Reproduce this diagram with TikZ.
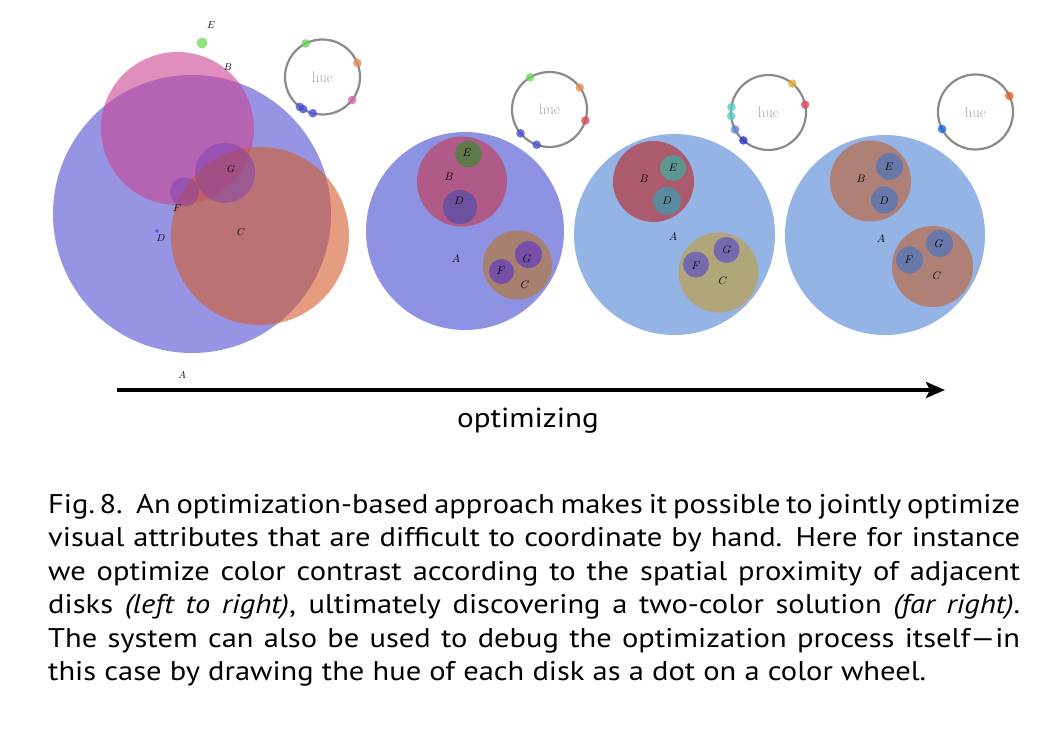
\documentclass[tikz,border=0pt]{standalone}
\usepackage{fontspec}
\newfontfamily\capfont[FakeStretch=1.13]{PT Sans}
\usetikzlibrary{arrows.meta}
\definecolor{pAa}{RGB}{151,148,227}
\definecolor{pBa}{RGB}{202,68,148}
\definecolor{pCa}{RGB}{210,92,45}
\definecolor{pGa}{RGB}{120,60,180}
\definecolor{pDa}{RGB}{80,80,220}
\definecolor{pEa}{RGB}{130,220,110}
\definecolor{pAb}{RGB}{142,146,226}
\definecolor{pBb}{RGB}{176,90,136}
\definecolor{pEb}{RGB}{94,122,74}
\definecolor{pDb}{RGB}{110,80,160}
\definecolor{pCb}{RGB}{168,128,112}
\definecolor{pFb}{RGB}{118,80,168}
\definecolor{pAc}{RGB}{147,180,228}
\definecolor{pBc}{RGB}{172,90,110}
\definecolor{pEc}{RGB}{94,150,144}
\definecolor{pDc}{RGB}{90,138,160}
\definecolor{pCc}{RGB}{176,166,122}
\definecolor{pFc}{RGB}{118,104,172}
\definecolor{pBd}{RGB}{174,128,118}
\definecolor{pDd}{RGB}{104,120,168}
\definecolor{wheelgray}{RGB}{138,138,138}
\definecolor{huegray}{RGB}{168,168,168}
\definecolor{hgreen}{RGB}{110,215,90}
\definecolor{horange}{RGB}{225,140,80}
\definecolor{hpink}{RGB}{220,100,170}
\definecolor{hblue}{RGB}{70,80,215}
\definecolor{hred}{RGB}{215,80,90}
\definecolor{hgold}{RGB}{225,175,60}
\definecolor{hteal}{RGB}{90,205,200}
\definecolor{hlblue}{RGB}{100,130,225}
\definecolor{hdblue}{RGB}{40,50,210}
\definecolor{hor4}{RGB}{225,100,40}
\definecolor{hbl4}{RGB}{20,100,225}
\begin{document}
\begin{tikzpicture}[x=1pt,y=-1pt,
  lbl/.style={font=\fontsize{11}{13}\selectfont, inner sep=0pt},
  lbls/.style={font=\fontsize{10}{12}\selectfont, inner sep=0pt},
  wheel/.style={draw=wheelgray, line width=2.2pt},
  huetxt/.style={font=\fontsize{15}{17}\selectfont, text=huegray, inner sep=0pt},
  hdot/.style={fill=#1, fill opacity=0.8, draw=none},
  capt/.style={font=\capfont\fontsize{27}{33.5}\selectfont, inner sep=0pt}]
\useasboundingbox (0,0) rectangle (1050,730);
\fill[white] (0,0) rectangle (1050,730);
% ---------- panel 1 ----------
\fill[pAa] (192,214) circle[radius=139pt];
\fill[pBa, fill opacity=0.6] (177.5,128.5) circle[radius=76.5pt];
\fill[pCa, fill opacity=0.6] (260,236) circle[radius=89pt];
\fill[pGa, fill opacity=0.45] (184.5,192) circle[radius=14.5pt];
\fill[pGa, fill opacity=0.45] (225,173) circle[radius=30pt];
\fill[pDa] (157,231) circle[radius=1.8pt];
\fill[pEa, fill opacity=0.85] (202,43) circle[radius=5.5pt];
\node[lbls] (a1) at (182,375) {$A$};
\node[lbls] (b1) at (228,67) {$B$};
\node[lbls] (c1) at (241,232) {$C$};
\node[lbls] (d1) at (161,238) {$D$};
\node[lbls] (e1) at (211,25) {$E$};
\node[lbls] (f1) at (177,208) {$F$};
\node[lbls] (g1) at (231,169) {$G$};
\coordinate (W1) at (322.5,77);
\draw[wheel] (W1) circle[radius=37.5pt];
\node[huetxt] (h1) at (W1) {hue};
\begin{scope}[shift={(W1)}]
\fill[hdot=hgreen] (116.6:37.5pt) circle[radius=4.3pt];
\fill[hdot=horange] (22:37.5pt) circle[radius=4.3pt];
\fill[hdot=hpink] (-38:37.5pt) circle[radius=4.3pt];
\fill[hdot=hblue] (-127:37.5pt) circle[radius=4.3pt];
\fill[hdot=hblue] (-121:37.5pt) circle[radius=4.3pt];
\fill[hdot=hblue] (-105:37.5pt) circle[radius=4.3pt];
\end{scope}
% ---------- panel 2 ----------
\fill[pAb] (465,231) circle[radius=99pt];
\fill[pBb] (462,181.5) circle[radius=45pt];
\fill[pEb] (468.5,154) circle[radius=13.3pt];
\fill[pDb] (460,207) circle[radius=17pt];
\fill[pCb] (517.5,265) circle[radius=34.5pt];
\fill[pFb] (528.5,254.5) circle[radius=13.5pt];
\fill[pFb] (501.5,271.5) circle[radius=12.5pt];
\node[lbl] (a2) at (456,259) {$A$};
\node[lbl] (b2) at (449,177) {$B$};
\node[lbl] (c2) at (525,285) {$C$};
\node[lbl] (d2) at (459,201) {$D$};
\node[lbl] (e2) at (467,153) {$E$};
\node[lbl] (f2) at (501,271) {$F$};
\node[lbl] (g2) at (527,259) {$G$};
\coordinate (W2) at (549.5,109.5);
\draw[wheel] (W2) circle[radius=37.5pt];
\node[huetxt] (h2) at (W2) {hue};
\begin{scope}[shift={(W2)}]
\fill[hdot=hgreen] (121:37.5pt) circle[radius=4.3pt];
\fill[hdot=horange] (36:37.5pt) circle[radius=4.3pt];
\fill[hdot=hred] (-17:37.5pt) circle[radius=4.3pt];
\fill[hdot=hblue] (-140.5:37.5pt) circle[radius=4.3pt];
\fill[hdot=hblue] (-110:37.5pt) circle[radius=4.3pt];
\end{scope}
% ---------- panel 3 ----------
\fill[pAc] (674.5,234.5) circle[radius=100.5pt];
\fill[pBc] (653.5,181.5) circle[radius=40.5pt];
\fill[pEc] (673,168) circle[radius=13pt];
\fill[pDc] (667,201) circle[radius=14pt];
\fill[pCc] (718.5,272.5) circle[radius=40pt];
\fill[pFc] (726.5,250) circle[radius=13pt];
\fill[pFc] (696,264.5) circle[radius=13pt];
\node[lbl] (a3) at (673,237) {$A$};
\node[lbl] (b3) at (644,179) {$B$};
\node[lbl] (c3) at (723,281) {$C$};
\node[lbl] (d3) at (667,201) {$D$};
\node[lbl] (e3) at (673,168) {$E$};
\node[lbl] (f3) at (696,266) {$F$};
\node[lbl] (g3) at (727,250) {$G$};
\coordinate (W3) at (768.5,112.5);
\draw[wheel] (W3) circle[radius=37.5pt];
\node[huetxt] (h3) at (W3) {hue};
\begin{scope}[shift={(W3)}]
\fill[hdot=hteal] (171.7:37.5pt) circle[radius=4.3pt];
\fill[hdot=hteal] (185.3:37.5pt) circle[radius=4.3pt];
\fill[hdot=hlblue] (207:37.5pt) circle[radius=4.3pt];
\fill[hdot=hdblue] (228:37.5pt) circle[radius=4.3pt];
\fill[hdot=hgold] (50.5:37.5pt) circle[radius=4.3pt];
\fill[hdot=hred] (12:37.5pt) circle[radius=4.3pt];
\end{scope}
% ---------- panel 4 ----------
\fill[pAc] (885,235) circle[radius=100pt];
\fill[pBd] (870.5,181) circle[radius=40.5pt];
\fill[pDd] (889.5,166.5) circle[radius=13.5pt];
\fill[pDd] (884.5,200) circle[radius=13.5pt];
\fill[pBd] (932.5,266.5) circle[radius=40.5pt];
\fill[pDd] (939.5,243.5) circle[radius=13.5pt];
\fill[pDd] (909.5,260) circle[radius=13.5pt];
\node[lbl] (a4) at (881,239) {$A$};
\node[lbl] (b4) at (861,179) {$B$};
\node[lbl] (c4) at (937,276) {$C$};
\node[lbl] (d4) at (884,201) {$D$};
\node[lbl] (e4) at (889,167) {$E$};
\node[lbl] (f4) at (909,260) {$F$};
\node[lbl] (g4) at (939,244) {$G$};
\coordinate (W4) at (975.5,112);
\draw[wheel] (W4) circle[radius=37.5pt];
\node[huetxt] (h4) at (W4) {hue};
\begin{scope}[shift={(W4)}]
\fill[hdot=hor4] (25.5:37.5pt) circle[radius=4.3pt];
\fill[hdot=hbl4] (207:37.5pt) circle[radius=4.3pt];
\end{scope}
% ---------- arrow ----------
\coordinate (arrS) at (117,390);
\coordinate (arrE) at (945,390);
\draw[line width=3.6pt, -{Stealth[length=19pt,width=16pt,inset=4pt]}] (arrS) -- (arrE);
\node[capt, font=\capfont\fontsize{27.5}{33}\selectfont, anchor=base] (opt) at (528,427) {optimizing};
% ---------- caption ----------
\node[capt, anchor=base west, align=left] (cap) at (48,680.5) {%
\makebox[972pt][s]{Fig.\,8.\enspace An optimization-based approach makes it possible to jointly optimize}\\
\makebox[972pt][s]{visual attributes that are difficult to coordinate by hand. Here for instance}\\
\makebox[972pt][s]{we optimize color contrast according to the spatial proximity of adjacent}\\
\makebox[972pt][s]{disks \textit{(left to right)}, ultimately discovering a two-color solution \textit{(far right)}.}\\
\makebox[972pt][s]{The system can also be used to debug the optimization process itself\textemdash in}\\
this case by drawing the hue of each disk as a dot on a color wheel.};
\end{tikzpicture}
\end{document}
